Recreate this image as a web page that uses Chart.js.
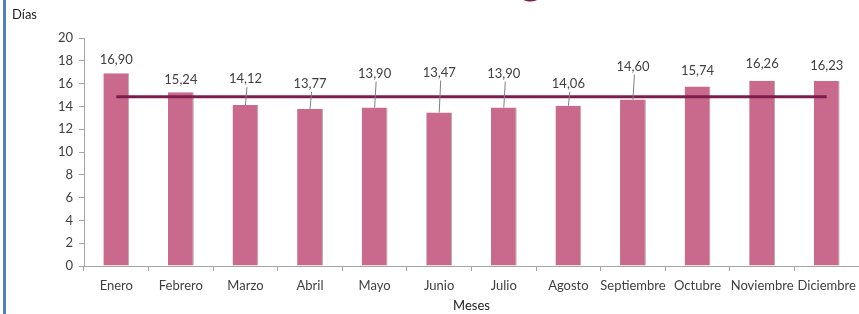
<!DOCTYPE html>
<html>
<head>
<meta charset="utf-8">
<script src="https://cdn.jsdelivr.net/npm/chart.js@4.4.1/dist/chart.umd.min.js"></script>
<style>
  html, body { margin: 0; padding: 0; background: #fff; overflow: hidden; }
  #wrap { width: 859px; height: 314px; position: relative; }
</style>
</head>
<body>
<div id="wrap"><canvas id="chart1" width="859" height="314"></canvas></div>
<script>
const barColor = "#C9698B"
const lineColor = "#7D1D4D"
const textColor = "#404040"

const meses = ["Enero", "Febrero", "Marzo", "Abril", "Mayo", "Junio", "Julio", "Agosto", "Septiembre", "Octubre", "Noviembre", "Diciembre"];
const dias = [16.90, 15.24, 14.12, 13.77, 13.90, 13.47, 13.90, 14.06, 14.60, 15.74, 16.26, 16.23];
const promedio = [14.85, 14.85, 14.85, 14.85, 14.85, 14.85, 14.85, 14.85, 14.85, 14.85, 14.85, 14.85];
const yTicks = [0, 2, 4, 6, 8, 10, 12, 14, 16, 18, 20];

// how far (px) each label sits above its bar, labels were moved by hand in the original
const labelGap = [14, 12, 26, 25, 34, 40, 34, 22, 33, 16, 17, 15];

const extras = {
    id: 'extras',
    afterDatasetsDraw(chart) {
        const ctx = chart.ctx;
        const meta = chart.getDatasetMeta(1);
        ctx.save();
        ctx.font = "13px Lato";
        ctx.fillStyle = textColor;
        ctx.textAlign = "center";
        ctx.textBaseline = "middle";
        meta.data.forEach(function (bar, i) {
            const ly = bar.y - labelGap[i];
            ctx.fillText(dias[i].toFixed(2).replace('.', ','), bar.x, ly);
            if (labelGap[i] > 20) {
                ctx.strokeStyle = "#7F7F7F";
                ctx.lineWidth = 1;
                ctx.beginPath();
                ctx.moveTo(bar.x + 1.5, ly + 8);
                ctx.lineTo(bar.x, bar.y);
                ctx.stroke();
            }
        });
        // eje title
        ctx.textAlign = "left";
        ctx.fillStyle = "#222";
        ctx.font = "13px Lato";
        ctx.fillText("Días", 12, 15);
        // left blue border
        ctx.fillStyle = "#4F81BD";
        ctx.fillRect(3, 0, 3, 314);
        // cut off title above
        ctx.fillStyle = lineColor;
        ctx.font = "bold 44px Lato";
        ctx.textAlign = "center";
        ctx.textBaseline = "alphabetic";
        ctx.fillText("g", 531, -6);
        ctx.restore();
    }
};

var ctx = document.getElementById('chart1').getContext('2d');
var chart = new Chart(ctx, {
    data: {
        labels: meses,
        datasets: [{
            type: 'line',
            data: promedio,
            borderColor: lineColor,
            borderWidth: 3,
            pointRadius: 0,
            order: 0
        }, {
            type: 'bar',
            data: dias,
            backgroundColor: barColor,
            borderColor: "#B5A9AE",
            borderWidth: { right: 1, top: 0, left: 0, bottom: 0 },
            borderSkipped: false,
            barPercentage: 0.4,
            categoryPercentage: 1,
            order: 1
        }]
    },
    options: {
        responsive: false,
        animation: false,
        layout: { padding: { top: 38, right: 0, left: 0, bottom: 0 } },
        plugins: {
            legend: { display: false },
            tooltip: { enabled: false }
        },
        scales: {
            x: {
                offset: true,
                grid: { offset: true, drawOnChartArea: false, tickLength: 5, color: "#A6A6A6" },
                border: { color: "#A6A6A6", width: 1 },
                ticks: { color: textColor, font: { family: "Lato", size: 13 }, padding: 7, maxRotation: 0, autoSkip: false },
                title: { display: true, text: "Meses", color: "#222", font: { family: "Lato", size: 13 }, padding: { top: 2, bottom: 0 } },
                afterFit(scale) {
                    scale.height = 48;
                    scale.paddingLeft = 0;
                    scale.paddingRight = 0;
                }
            },
            y: {
                min: 0,
                max: 20,
                afterBuildTicks(scale) { scale.ticks = yTicks.map(v => ({ value: v })); },
                grid: { drawOnChartArea: false, tickLength: 5, color: "#A6A6A6" },
                border: { color: "#A6A6A6", width: 1 },
                ticks: { color: textColor, font: { family: "Lato", size: 13 }, padding: 6 },
                afterFit(scale) { scale.width = 84; }
            }
        }
    },
    plugins: [extras]
});
</script>
</body>
</html>
